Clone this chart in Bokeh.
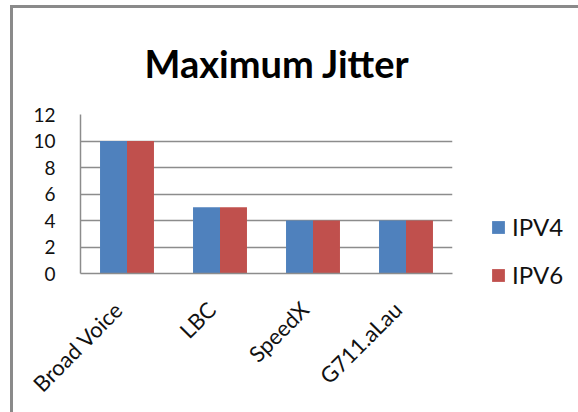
from bokeh.plotting import figure
from bokeh.models import (ColumnDataSource, FixedTicker, Legend, LegendItem, Title)
from bokeh.transform import dodge
from bokeh.embed import file_html
from bokeh.resources import INLINE
import math

# Chart data
categories = ["Broad Voice", "LBC", "SpeedX", "G711.aLau"]
ipv4 = [10, 5, 4, 4]
ipv6 = [10, 5, 4, 4]
y_ticks = [0, 2, 4, 6, 8, 10, 12]
series_names = ["IPV4", "IPV6"]

BLUE = "#4F81BD"
RED = "#C0504D"
GRID = "#8C8C8C"
FONT = "Lato"

# one slot per category, group centred in its slot
slot = [i + 0.5 for i in range(len(categories))]
source = ColumnDataSource(dict(slot=slot, cat=categories, ipv4=ipv4, ipv6=ipv6))

p = figure(
    x_range=(0, len(categories)),
    y_range=(0, 12),
    width=565, height=404,
    frame_width=372, frame_height=159,
    min_border_left=67, min_border_right=126,
    min_border_top=106, min_border_bottom=139,
    output_backend="svg", toolbar_location=None,
)
# chart box frame: grey edge along the top and left
p.margin = (5, 0, 0, 10)
p.styles = {"border-top": "3px solid #8A8A8A", "border-left": "3px solid #8A8A8A"}
p.outline_line_color = None
p.background_fill_color = "white"
p.border_fill_color = "white"

bw = 0.29
r1 = p.vbar(x=dodge("slot", -bw / 2), top="ipv4", width=bw,
            source=source, fill_color=BLUE, line_color=None)
r2 = p.vbar(x=dodge("slot", bw / 2), top="ipv6", width=bw,
            source=source, fill_color=RED, line_color=None)

# Category axis: slanted labels end just left of each group's centre
label_pos = [s - 0.09 for s in slot]
p.xaxis.ticker = FixedTicker(ticks=label_pos)
p.xaxis.major_label_overrides = {pos: name for pos, name in zip(label_pos, categories)}
p.xaxis.axis_line_color = GRID
p.xaxis.axis_line_width = 1.5
p.xaxis.major_tick_line_color = None
p.xaxis.minor_tick_line_color = None
p.xaxis.major_label_orientation = math.pi / 4
p.xaxis.major_label_text_font = FONT
p.xaxis.major_label_text_font_size = "22px"
p.xaxis.major_label_text_color = "#111111"
p.xaxis.major_label_standoff = 26

# Value axis
p.yaxis.ticker = FixedTicker(ticks=y_ticks)
p.yaxis.axis_line_color = GRID
p.yaxis.axis_line_width = 1.5
p.yaxis.major_tick_line_color = None
p.yaxis.minor_tick_line_color = None
p.yaxis.major_label_text_font = FONT
p.yaxis.major_label_text_font_size = "19px"
p.yaxis.major_label_text_color = "#111111"
p.yaxis.major_label_standoff = 19

# Grid
p.xgrid.grid_line_color = None
p.ygrid.ticker = FixedTicker(ticks=y_ticks[1:-1])
p.ygrid.grid_line_color = GRID
p.ygrid.grid_line_width = 1.5

# Title, hung from the top of its panel
p.title = Title(text="Maximum Jitter", align="left", vertical_align="top",
                text_font=FONT, text_font_size="38px", text_font_style="bold",
                text_color="black", standoff=54, offset=64)

# Legend in the right-hand panel
legend = Legend(
    items=[LegendItem(label=series_names[0], renderers=[r1]),
           LegendItem(label=series_names[1], renderers=[r2])],
    location=(38, -16),
    glyph_width=16, glyph_height=16, spacing=19,
    label_text_font=FONT, label_text_font_size="24px",
    label_text_color="#111111", label_standoff=6,
    padding=0, margin=0, border_line_color=None, background_fill_alpha=0,
)
p.add_layout(legend, "right")

open("out.html", "w").write(file_html(p, INLINE))
